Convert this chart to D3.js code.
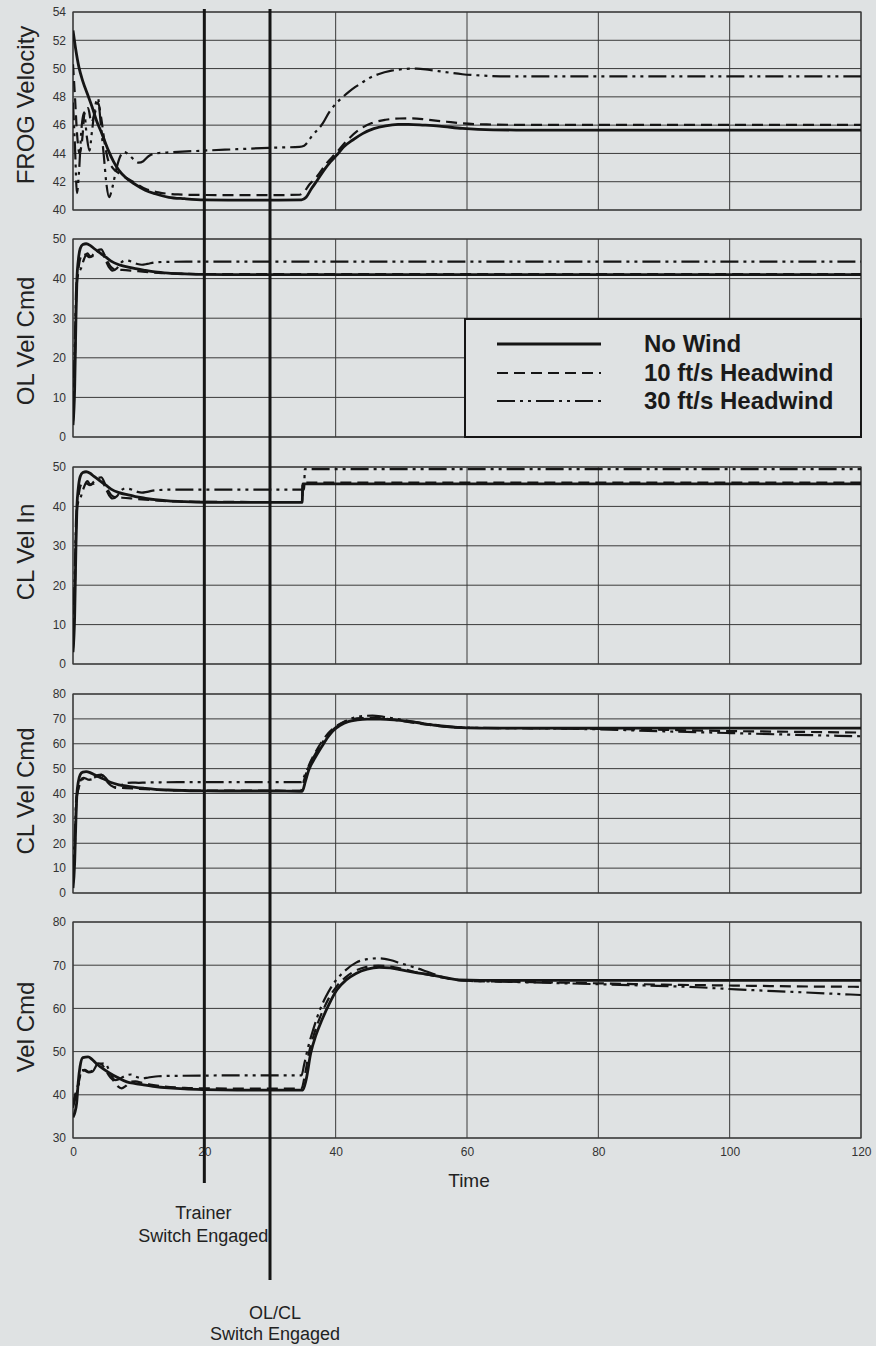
<!DOCTYPE html>
<html><head><meta charset="utf-8">
<script src="https://cdn.jsdelivr.net/npm/d3@7"></script>
<style>
html,body{margin:0;padding:0;background:#dfe2e3;}
svg{display:block;}
</style></head><body>
<svg id="chart" width="876" height="1346"></svg>
<script>
// ---------------- DATA ----------------
const timeTicks = [0, 20, 40, 60, 80, 100, 120];
const frogTicks = [40, 42, 44, 46, 48, 50, 52, 54];
const olTicks = [0, 10, 20, 30, 40, 50];
const clInTicks = [0, 10, 20, 30, 40, 50];
const clCmdTicks = [0, 10, 20, 30, 40, 50, 60, 70, 80];
const velTicks = [30, 40, 50, 60, 70, 80];
const panelTitles = ["FROG Velocity", "OL Vel Cmd", "CL Vel In", "CL Vel Cmd", "Vel Cmd"];
const seriesNames = ["No Wind", "10 ft/s Headwind", "30 ft/s Headwind"];
const eventTimes = [20, 30];
const eventLabels = [["Trainer", "Switch Engaged"], ["OL/CL", "Switch Engaged"]];
const xTitle = "Time";

// FROG Velocity
const frogNoWind = [[0,52.7],[0.4,51.4],[0.9,50.1],[1.5,49.1],[2.2,48.2],[2.9,47.3],[3.6,46.3],[4.4,45.4],[5.4,44.2],[6.2,43.4],[7,42.8],[8,42.3],[9.5,41.8],[11,41.4],[12.5,41.15],[14.6,40.9],[17,40.8],[20,40.72],[25,40.7],[30,40.7],[34.8,40.72],[35.5,40.9],[36.3,41.5],[37.2,42.1],[38.2,42.8],[39.2,43.4],[40.2,43.9],[41.2,44.45],[42.6,44.95],[44.1,45.4],[45.8,45.75],[47.6,45.95],[49.5,46.05],[51.1,46.06],[53.5,46.0],[55.8,45.93],[59.3,45.77],[64,45.67],[70,45.65],[80,45.65],[90,45.65],[100,45.65],[110,45.65],[120,45.65]];
const frog10 = [[0,50.3],[0.3,48],[0.6,45.5],[1,44],[1.4,45],[1.8,47],[2.3,47.2],[2.8,46.2],[3.3,46.8],[3.8,47.6],[4.3,46.5],[4.8,44.8],[5.3,43.6],[6,43],[7,42.6],[8,42.3],[9.5,41.9],[11,41.5],[13,41.25],[16,41.1],[20,41.06],[25,41.05],[30,41.05],[34.5,41.08],[35.2,41.3],[36,41.8],[37.2,42.4],[38.6,43.3],[40,44.0],[41.7,44.9],[43.5,45.65],[45.5,46.15],[47.6,46.38],[49.7,46.47],[51.7,46.48],[54,46.38],[56.9,46.24],[59.3,46.13],[63,46.05],[70,46.02],[80,46.02],[90,46.02],[100,46.02],[110,46.02],[120,46.02]];
const frog30 = [[0,47.6],[0.3,44.5],[0.6,41.2],[0.9,42.6],[1.3,45.8],[1.7,46.9],[2.1,45.2],[2.5,44.2],[2.9,45.6],[3.4,47.4],[3.8,47.9],[4.2,46.2],[4.7,43.8],[5.1,41.8],[5.5,40.9],[6,41.6],[6.6,42.9],[7.2,43.8],[7.8,44.1],[8.5,43.9],[9.3,43.55],[10,43.35],[10.7,43.45],[11.5,43.8],[12.5,44.0],[15,44.08],[20,44.2],[25,44.3],[30,44.4],[34.5,44.47],[35.2,44.55],[36.5,45.3],[38,46.1],[39,46.9],[40,47.5],[41,47.95],[42,48.35],[43,48.7],[44,49.0],[45,49.3],[46.5,49.6],[48.5,49.85],[50.5,49.97],[52.3,50.0],[54.3,49.9],[56.3,49.78],[59.3,49.6],[62.5,49.5],[66.2,49.45],[75,49.45],[90,49.45],[105,49.45],[120,49.45]];

// OL Vel Cmd
const olNoWind = [[0,3],[0.25,12],[0.45,30],[0.6,40],[0.8,44.5],[1.1,47.6],[1.5,48.6],[2,48.8],[2.6,48.4],[3.2,47.6],[4,46.6],[5,45.4],[5.8,44.4],[7,43.5],[8.4,42.9],[9.5,42.5],[10.9,42.1],[12.5,41.7],[14.5,41.4],[17,41.2],[20,41.05],[25,41],[35,41],[50,41],[70,41],[90,41],[120,41]];
const ol10 = [[0,4],[0.3,20],[0.5,36],[0.8,42],[1.2,45.5],[1.6,46.3],[2.1,45.8],[2.6,45.4],[3.2,46.3],[3.8,47.2],[4.3,47.4],[4.8,46],[5.3,44.2],[5.8,42.9],[6.5,42.3],[7.5,42.2],[9,42.0],[11,41.7],[13,41.45],[16,41.25],[20,41.15],[30,41.12],[50,41.12],[80,41.12],[120,41.12]];
const ol30 = [[0,5],[0.3,25],[0.5,38],[0.8,41.2],[1.2,42.5],[1.7,45],[2.2,46.4],[2.6,45.6],[3.2,45.8],[3.8,46.9],[4.4,46.5],[5,44.5],[5.5,42.8],[6,42],[6.7,42.6],[7.3,44],[8,44.6],[8.9,44.3],[9.8,43.7],[10.5,43.5],[11.3,43.7],[12.5,44.1],[15,44.25],[20,44.27],[40,44.27],[70,44.27],[100,44.27],[120,44.27]];

// CL Vel In
const clInNoWind = [[0,3],[0.25,12],[0.45,30],[0.6,40],[0.8,44.5],[1.1,47.6],[1.5,48.6],[2,48.8],[2.6,48.4],[3.2,47.6],[4,46.6],[5,45.4],[5.8,44.4],[7,43.5],[8.4,42.9],[9.5,42.5],[10.9,42.1],[12.5,41.7],[14.5,41.4],[17,41.2],[20,41.05],[25,41],[34.9,41],[35,45.7],[50,45.7],[70,45.7],[90,45.7],[120,45.7]];
const clIn10 = [[0,4],[0.3,20],[0.5,36],[0.8,42],[1.2,45.5],[1.6,46.3],[2.1,45.8],[2.6,45.4],[3.2,46.3],[3.8,47.2],[4.3,47.4],[4.8,46],[5.3,44.2],[5.8,42.9],[6.5,42.3],[7.5,42.2],[9,42.0],[11,41.7],[13,41.45],[16,41.25],[20,41.15],[30,41.12],[34.9,41.12],[35,46.05],[60,46.05],[90,46.05],[120,46.05]];
const clIn30 = [[0,5],[0.3,25],[0.5,38],[0.8,41.2],[1.2,42.5],[1.7,45],[2.2,46.4],[2.6,45.6],[3.2,45.8],[3.8,46.9],[4.4,46.5],[5,44.5],[5.5,42.8],[6,42],[6.7,42.6],[7.3,44],[8,44.6],[8.9,44.3],[9.8,43.7],[10.5,43.5],[11.3,43.7],[12.5,44.1],[15,44.25],[20,44.27],[35.2,44.27],[35.3,49.45],[60,49.45],[90,49.45],[120,49.45]];

// CL Vel Cmd
const clCmdNoWind = [[0,2],[0.25,12],[0.45,30],[0.6,40],[0.8,44.5],[1.1,47.6],[1.5,48.6],[2,48.8],[2.6,48.4],[3.2,47.6],[4,46.6],[5,45.4],[5.8,44.4],[7,43.5],[8.4,42.9],[9.5,42.5],[10.9,42.1],[12.5,41.7],[14.5,41.4],[17,41.2],[20,41.05],[25,41],[30,41],[34.9,40.9],[35.4,45],[35.9,49.4],[36.9,54.5],[37.9,58.9],[38.8,62.6],[39.6,65.2],[40.7,67.4],[41.9,68.9],[43.3,69.6],[44.8,69.9],[46.8,69.9],[48.9,69.6],[51.5,68.8],[54.7,67.6],[58.2,66.6],[62,66.3],[70,66.3],[80,66.3],[90,66.3],[100,66.3],[110,66.3],[120,66.3]];
const clCmd10 = [[0,4],[0.3,20],[0.5,36],[0.8,42],[1.2,45.5],[1.6,46.3],[2.1,45.8],[2.6,45.4],[3.2,46.3],[3.8,47.4],[4.3,47.6],[4.8,46.2],[5.3,44.4],[5.8,43.2],[6.5,42.5],[7.5,42.3],[9,42.0],[11,41.7],[13,41.45],[16,41.25],[20,41.15],[30,41.12],[34.7,41.1],[35.2,45.5],[35.8,50.5],[36.8,56],[37.8,60.5],[38.8,64],[39.8,66.5],[40.9,68.4],[42.2,69.6],[43.8,70.3],[45.6,70.4],[47.6,70.1],[50,69.2],[53,68],[56.5,66.9],[60,66.4],[65,66.3],[70,66.2],[80,66.0],[90,65.6],[100,65.1],[110,64.8],[120,64.5]];
const clCmd30 = [[0,5],[0.3,25],[0.5,38],[0.8,41.5],[1.3,45.5],[1.8,45.9],[2.4,45.5],[3,45.8],[3.8,47],[4.4,47.5],[5,46.2],[5.6,44],[6.2,42.6],[6.7,42.2],[7.3,43.2],[8,44.2],[9,44.4],[10,44.3],[11,44.4],[13,44.5],[16,44.55],[20,44.6],[30,44.6],[34.8,44.6],[35.3,47.5],[36,51.5],[37,56.4],[38,60.6],[39,64],[40,66.6],[41.2,68.7],[42.6,70.3],[44,71.1],[45.6,71.3],[47.3,70.8],[49.5,69.9],[52,68.8],[55,67.6],[58,66.8],[62,66.4],[70,66.2],[80,65.8],[90,65.0],[100,64.3],[110,63.6],[120,63.0]];

// Vel Cmd
const velNoWind = [[0,34.8],[0.3,36],[0.55,38],[0.8,43],[1.07,46.5],[1.5,48.6],[2.3,48.8],[2.9,48.2],[3.5,47.3],[4.5,46.1],[5.6,45.0],[6.8,44],[8.2,43.0],[9.5,42.6],[10.7,42.3],[12.5,41.9],[14.5,41.6],[17,41.35],[20,41.2],[25,41.1],[30,41.1],[35,41.1],[35.5,43.5],[36.2,49.6],[37,53.8],[37.9,57.3],[39,61],[40.2,64.3],[41.6,66.6],[43.1,68.1],[44.8,69.1],[46.6,69.5],[48.3,69.4],[50,68.9],[52.2,68.3],[54.7,67.7],[56.7,67.1],[58.7,66.6],[62,66.5],[70,66.5],[80,66.5],[90,66.5],[100,66.5],[110,66.5],[120,66.5]];
const vel10 = [[0,38],[0.4,40.5],[0.8,42.5],[1.3,45.2],[1.8,45.8],[2.4,45.3],[3,45.6],[3.8,47.3],[4.4,47],[5,45.6],[5.6,44.2],[6.2,43.2],[6.8,42.0],[7.4,41.5],[8,42.0],[8.7,43.0],[9.5,43.1],[10.5,42.8],[12,42.3],[14,41.9],[17,41.6],[20,41.5],[25,41.45],[30,41.45],[34.8,41.45],[35.3,44.5],[35.9,49.5],[36.8,54.5],[37.8,58.6],[38.9,62.2],[40.1,65],[41.5,67.2],[43,68.7],[44.7,69.6],[46.5,69.9],[48.3,69.7],[50.3,69.1],[52.5,68.3],[55,67.5],[57.5,66.8],[60,66.4],[65,66.2],[70,66.1],[80,65.8],[90,65.5],[100,65.3],[110,65.1],[120,65.0]];
const vel30 = [[0,37],[0.4,39.5],[0.8,41.8],[1.3,45.7],[1.8,45.6],[2.4,45.2],[3,45.4],[3.6,46.8],[4.2,47.2],[4.9,47.3],[5.4,46],[5.9,44.3],[6.4,43.4],[7,43.6],[7.8,44.3],[8.8,44.7],[9.6,44.2],[10.5,43.8],[11.5,44.0],[13,44.3],[16,44.4],[20,44.45],[25,44.5],[30,44.5],[34.8,44.5],[35.2,47],[35.8,51],[36.6,55.2],[37.5,59.3],[38.5,62.7],[39.7,65.8],[41.2,68.4],[43.1,70.6],[44.8,71.4],[46.6,71.6],[48.3,71.2],[50,70.4],[52,69.5],[54.5,68.2],[56.9,67.0],[60,66.4],[65,66.2],[70,66.0],[80,65.6],[87,65.3],[95,64.9],[101,64.4],[110,63.8],[120,63.1]];

// ---------------- LAYOUT / DRAW ----------------
const BG = "#dfe2e3";
const INK = "#151515";
const GRID = "#3a3a3a";
const FONT = "'Liberation Sans', Arial, Helvetica, sans-serif";

const svg = d3.select("#chart");
svg.append("rect").attr("width", 876).attr("height", 1346).attr("fill", BG);

const x0 = 73, x1 = 861;
const x = d3.scaleLinear().domain([0, 120]).range([x0, x1]);

const panels = [
  {title: panelTitles[0], ticks: frogTicks, top: 12, bottom: 210, titleY: 105, series: [frogNoWind, frog10, frog30]},
  {title: panelTitles[1], ticks: olTicks, top: 239, bottom: 437, titleY: 341, series: [olNoWind, ol10, ol30]},
  {title: panelTitles[2], ticks: clInTicks, top: 467, bottom: 664, titleY: 552, series: [clInNoWind, clIn10, clIn30]},
  {title: panelTitles[3], ticks: clCmdTicks, top: 694, bottom: 893, titleY: 791, series: [clCmdNoWind, clCmd10, clCmd30]},
  {title: panelTitles[4], ticks: velTicks, top: 922, bottom: 1138, titleY: 1027, series: [velNoWind, vel10, vel30]}
];

const styles = [
  {dash: null, w: 2.8},
  {dash: "11,6", w: 2.2},
  {dash: "18,5,3,5,3,5", w: 2.2}
];

panels.forEach((p, i) => {
  const y = d3.scaleLinear().domain([p.ticks[0], p.ticks[p.ticks.length - 1]]).range([p.bottom, p.top]);
  const g = svg.append("g");

  g.selectAll("line.h").data(p.ticks).enter().append("line")
    .attr("x1", x0).attr("x2", x1)
    .attr("y1", d => y(d)).attr("y2", d => y(d))
    .attr("stroke", GRID).attr("stroke-width", 1);
  g.selectAll("line.v").data(timeTicks).enter().append("line")
    .attr("x1", d => x(d)).attr("x2", d => x(d))
    .attr("y1", p.top).attr("y2", p.bottom)
    .attr("stroke", GRID).attr("stroke-width", 1);
  g.append("rect").attr("x", x0).attr("y", p.top).attr("width", x1 - x0).attr("height", p.bottom - p.top)
    .attr("fill", "none").attr("stroke", GRID).attr("stroke-width", 1.2);

  const ax = g.append("g").attr("transform", `translate(${x0},0)`)
    .call(d3.axisLeft(y).tickValues(p.ticks).tickSize(0).tickPadding(7));
  ax.select(".domain").remove();
  ax.selectAll("text").attr("font-family", FONT).attr("font-size", 12).attr("fill", "#333");

  g.append("text").attr("transform", `translate(34,${p.titleY}) rotate(-90)`)
    .attr("text-anchor", "middle").attr("font-family", FONT).attr("font-size", 24)
    .attr("fill", "#222").text(p.title);

  const cid = "clip" + i;
  svg.append("clipPath").attr("id", cid).append("rect")
    .attr("x", x0).attr("y", p.top - 1).attr("width", x1 - x0).attr("height", p.bottom - p.top + 2);

  const line = d3.line().x(d => x(d[0])).y(d => y(d[1])).curve(d3.curveMonotoneX);
  const lg = g.append("g").attr("clip-path", `url(#${cid})`);
  [2, 1, 0].forEach(k => {
    lg.append("path").datum(p.series[k]).attr("d", line)
      .attr("fill", "none").attr("stroke", INK)
      .attr("stroke-width", styles[k].w)
      .attr("stroke-dasharray", styles[k].dash)
      .attr("stroke-linejoin", "round");
  });

  if (i === panels.length - 1) {
    const xa = g.append("g").attr("transform", `translate(0,${p.bottom})`)
      .call(d3.axisBottom(x).tickValues(timeTicks).tickSize(0).tickPadding(9));
    xa.select(".domain").remove();
    xa.selectAll("text").attr("font-family", FONT).attr("font-size", 12).attr("fill", "#333");
  }
});

svg.append("text").attr("x", x(60) + 2).attr("y", 1187).attr("text-anchor", "middle")
  .attr("font-family", FONT).attr("font-size", 19).attr("fill", "#222").text(xTitle);

const lgd = svg.append("g");
lgd.append("rect").attr("x", 465).attr("y", 319).attr("width", 396).attr("height", 118)
  .attr("fill", BG).attr("stroke", INK).attr("stroke-width", 2);
const rowsY = [344, 373, 401];
seriesNames.forEach((nm, k) => {
  lgd.append("line").attr("x1", 497).attr("x2", 601).attr("y1", rowsY[k]).attr("y2", rowsY[k])
    .attr("stroke", INK).attr("stroke-width", styles[k].w).attr("stroke-dasharray", styles[k].dash);
  lgd.append("text").attr("x", 644).attr("y", rowsY[k] + 8)
    .attr("font-family", FONT).attr("font-size", 24).attr("font-weight", "bold")
    .attr("fill", "#1a1a1a").text(nm);
});

const eventEnds = [1183, 1280];
const labelX = [x(eventTimes[0]) - 1, x(eventTimes[1]) + 5];
const labelY = [[1219, 1242], [1319, 1340]];
eventTimes.forEach((t, k) => {
  svg.append("line").attr("x1", x(t)).attr("x2", x(t)).attr("y1", 9).attr("y2", eventEnds[k])
    .attr("stroke", INK).attr("stroke-width", 3);
  eventLabels[k].forEach((s, j) => {
    svg.append("text").attr("x", labelX[k]).attr("y", labelY[k][j]).attr("text-anchor", "middle")
      .attr("font-family", FONT).attr("font-size", 18).attr("fill", "#222").text(s);
  });
});
</script>
</body></html>
